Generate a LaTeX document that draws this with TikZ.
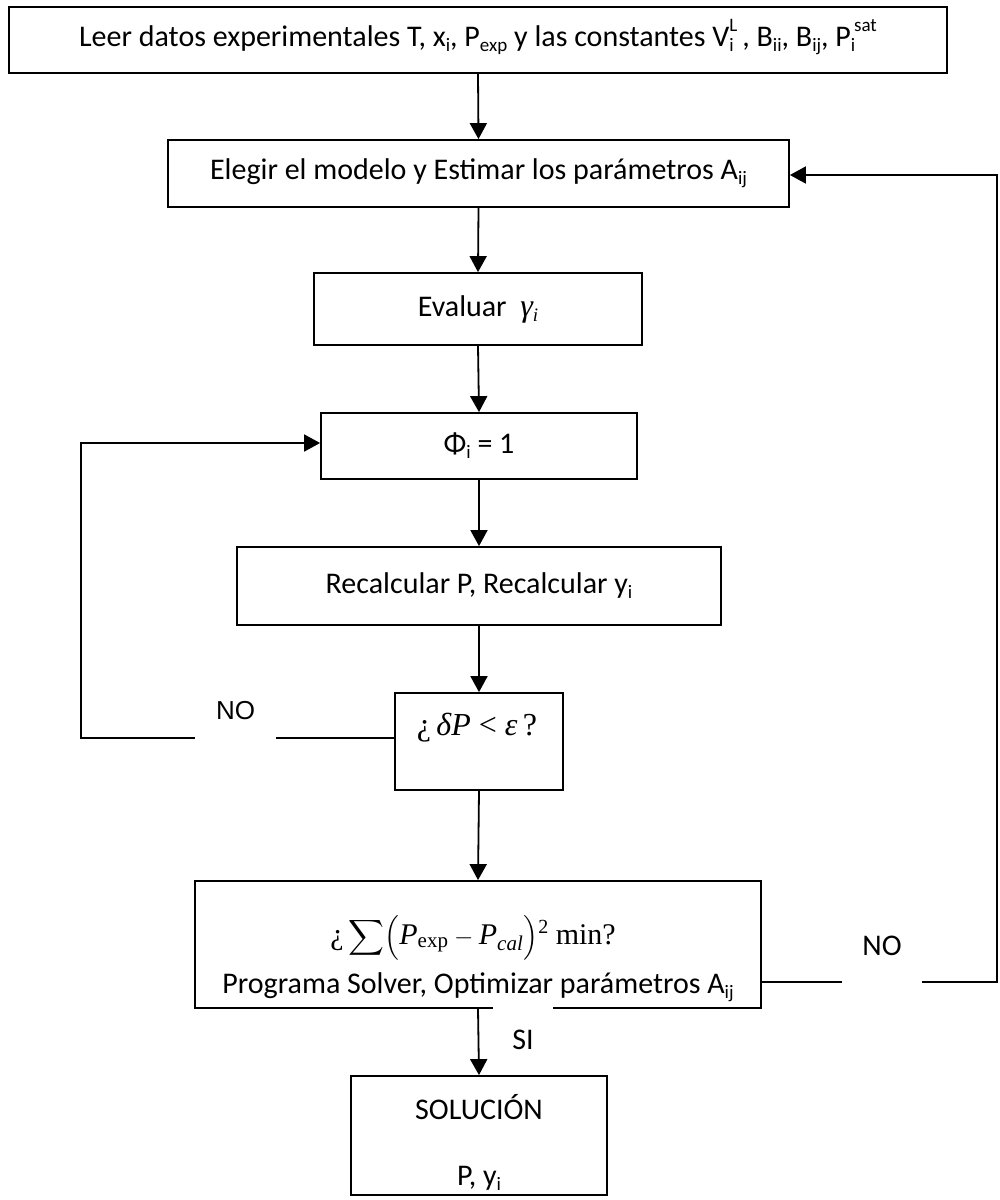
\documentclass[tikz,border=0pt]{standalone}
\usepackage{amsmath}
\usepackage{fontspec}
\setmainfont{Carlito}
\newfontfamily\tnr{Liberation Serif}
\newfontfamily\arial{Liberation Sans}
\usetikzlibrary{arrows.meta}
\newcommand\sbx[1]{\raisebox{-0.35ex}{\fontsize{19}{21}\selectfont #1}}
\newcommand\ssp[2]{\rlap{\raisebox{-0.35ex}{\fontsize{19}{21}\selectfont #1}}\raisebox{1.05ex}{\fontsize{19}{21}\selectfont #2}}
\tikzset{
  box/.style={draw, line width=1.8pt, rectangle, inner sep=0pt, fill=white},
  conn/.style={line width=1.8pt, -{Triangle[width=17pt,length=16pt]}},
  lbl/.style={inner sep=0pt, fill=white},
  txt/.style={inner sep=0pt},
}
\begin{document}
\begin{tikzpicture}[x=1pt,y=-1pt,font=\fontsize{30}{36}\selectfont]
\useasboundingbox (0,0) rectangle (1000,1200);
% boxes
\node[box, minimum width=938pt, minimum height=66pt] (b1) at (478,40) {};
\node[txt] (t1) at (478,37) {Leer datos experimentales T, x\sbx{i}, P\sbx{exp} y las constantes V\ssp{i}{L}\,, B\sbx{ii}, B\sbx{ij}, P\ssp{i}{\,sat}};
\node[box, minimum width=621pt, minimum height=67pt] (b2) at (478.5,173.5) {Elegir el modelo y Estimar los parámetros A\sbx{ij}};
\node[box, minimum width=328pt, minimum height=72pt] (b3) at (478,309) {Evaluar\ \ {\tnr\itshape\fontsize{32}{36}\selectfont γ}\sbx{\tnr\itshape i}};
\node[box, minimum width=316pt, minimum height=66pt] (b4) at (479,446) {Φ\sbx{i} = 1};
\node[box, minimum width=484pt, minimum height=78pt] (b5) at (479,586) {Recalcular P, Recalcular y\sbx{i}};
\node[box, minimum width=168pt, minimum height=97pt] (b6) at (479,741.5) {};
\node[txt] (t6) at (477,728) {\tnr\fontsize{32}{36}\selectfont ¿\,{\itshape δP} < {\itshape ε}\,?};
\node[box, minimum width=566pt, minimum height=127pt] (b7) at (478,944.5) {};
\node[txt] (t7a) at (473,938) {\tnr\fontsize{30}{36}\selectfont ¿\,$\displaystyle\sum\Bigl(\text{\tnr\itshape P}_{\text{\tnr exp}}-\text{\tnr\itshape P}_{\text{\tnr\itshape cal}}\Bigr)$\raisebox{0.75ex}{\fontsize{20}{22}\selectfont 2}\ min?};
\node[txt] (t7b) at (478,987) {Programa Solver, Optimizar parámetros A\sbx{ij}};
\node[box, minimum width=256pt, minimum height=119pt] (b8) at (479,1135.5) {};
\node[txt] (t8a) at (479,1107) {SOLUCIÓN};
\node[txt] (t8b) at (479,1178) {P, y\sbx{i}};
% coordinates
\coordinate (l1) at (81,738);
\coordinate (l2) at (81,443);
\coordinate (r1) at (997,982);
\coordinate (r2) at (997,175);
% connectors
\draw[conn] (b1.south) -- (b2.north);
\draw[conn] (b2.south) -- (b3.north);
\draw[conn] (b3.south) -- (b4.north);
\draw[conn] (b4.south) -- (b5.north);
\draw[conn] (b5.south) -- (b6.north);
\draw[conn] (b6.south) -- (b7.north);
\draw[conn] (b7.south) -- (b8.north);
\draw[conn] (b6.west |- l1) -- (l1) -- (l2) -- (b4.west |- l2);
\draw[conn] (b7.east |- r1) -- (r1) -- (r2) -- (b2.east |- r2);
% labels
\node[lbl, minimum width=81pt, minimum height=58pt] (no1) at (235.5,711) {\arial\fontsize{26}{30}\selectfont NO};
\node[lbl, minimum width=80pt, minimum height=76pt] (no2) at (882,946) {NO};
\node[lbl, minimum width=60pt, minimum height=66pt] (si) at (523,1040) {SI};
\end{tikzpicture}
\end{document}
